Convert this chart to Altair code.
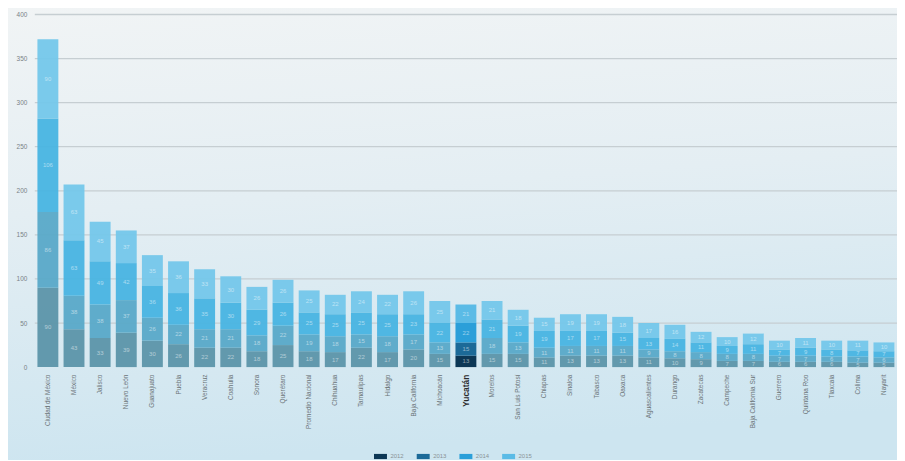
import altair as alt
import pandas as pd

states = ["Ciudad de México", "México", "Jalisco", "Nuevo León", "Guanajuato", "Puebla",
          "Veracruz", "Coahuila", "Sonora", "Querétaro", "Promedio Nacional", "Chihuahua",
          "Tamaulipas", "Hidalgo", "Baja California", "Michoacán", "Yucatán", "Morelos",
          "San Luis Potosí", "Chiapas", "Sinaloa", "Tabasco", "Oaxaca", "Aguascalientes",
          "Durango", "Zacatecas", "Campeche", "Baja California Sur", "Guerrero",
          "Quintana Roo", "Tlaxcala", "Colima", "Nayarit"]

s1 = [90, 43, 33, 39, 30, 26, 22, 22, 18, 25, 18, 17, 22, 17, 20, 15, 13, 15, 15, 11, 13,
      13, 13, 11, 10, 9, 7, 7, 6, 6, 6, 5, 5]
s2 = [86, 38, 38, 37, 26, 22, 21, 21, 18, 22, 19, 18, 15, 18, 17, 13, 15, 18, 13, 11, 11,
      11, 11, 9, 8, 8, 8, 8, 7, 7, 6, 7, 6]
s3 = [106, 63, 49, 42, 36, 36, 35, 30, 29, 26, 25, 25, 25, 25, 23, 22, 22, 21, 19, 19, 17,
      17, 15, 13, 14, 11, 9, 11, 7, 9, 8, 7, 7]
s4 = [90, 63, 45, 37, 35, 36, 33, 30, 26, 26, 25, 22, 24, 22, 26, 25, 21, 21, 18, 15, 19,
      19, 18, 17, 16, 12, 10, 12, 10, 11, 10, 11, 10]

series_names = ["2012", "2013", "2014", "2015"]
highlight_state = "Yucatán"
grid_values = [50, 100, 150, 200, 250, 300, 350, 400]
tick_values = [0, 50, 100, 150, 200, 250, 300, 350, 400]

muted_colors = ["#5c95a9", "#58a9c8", "#48b4e1", "#74c7ea"]
dark_colors = ["#0c3755", "#1c6a98", "#2b9fd9", "#5bbbe6"]

rows = []
for i, st in enumerate(states):
    start = 0
    for name, vals in zip(series_names, [s1, s2, s3, s4]):
        v = vals[i]
        rows.append({"state": st, "series": name, "value": v, "start": start,
                     "end": start + v, "mid": start + v / 2,
                     "hl": "yes" if st == highlight_state else "no"})
        start += v
df = pd.DataFrame(rows)
grid_df = pd.DataFrame({"g": grid_values})

W, H = 868, 355

x_enc = alt.X("state:N", sort=states, title=None,
              scale=alt.Scale(paddingInner=0.2, paddingOuter=0.1),
              axis=alt.Axis(labelAngle=-90, labelAlign="right", labelBaseline="middle",
                            labelPadding=7, ticks=False, domain=False, zindex=2,
                            labelFont="Liberation Sans",
                            labelFontSize=alt.condition(alt.datum.value == highlight_state,
                                                        alt.value(8.5), alt.value(6.5)),
                            labelFontWeight=alt.condition(alt.datum.value == highlight_state,
                                                          alt.value("bold"), alt.value("normal")),
                            labelColor=alt.condition(alt.datum.value == highlight_state,
                                                     alt.value("#2b2b2b"), alt.value("#6b7478"))))
y_scale = alt.Scale(domain=[0, 400], nice=False)
y_axis = alt.Axis(values=tick_values, ticks=False, domain=False, grid=False, zindex=2,
                  labelPadding=8, labelFontSize=6.5, labelColor="#7a8286",
                  labelFont="Liberation Sans")

bg = alt.Chart(alt.Data(values=[{"a": 1}])).mark_rect(
    color=alt.LinearGradient(gradient="linear",
                             stops=[alt.GradientStop(color="#f1f4f5", offset=0),
                                    alt.GradientStop(color="#e4eef3", offset=0.45),
                                    alt.GradientStop(color="#cde5f0", offset=1)],
                             x1=0, x2=0.15, y1=0, y2=1)
).encode(x=alt.value(-40), x2=alt.value(W + 40), y=alt.value(-10), y2=alt.value(H + 100))

grid = alt.Chart(grid_df).mark_rule(color="#c6ced2", strokeWidth=1.3).encode(
    y=alt.Y("g:Q", scale=y_scale, axis=y_axis, title=None),
    x=alt.value(0), x2=alt.value(W),
)

bars_normal = alt.Chart(df).transform_filter(alt.datum.hl == "no").mark_bar(opacity=0.95).encode(
    x=x_enc,
    y=alt.Y("start:Q", scale=y_scale, axis=y_axis, title=None),
    y2="end:Q",
    color=alt.Color("series:N", scale=alt.Scale(domain=series_names, range=muted_colors),
                    legend=None),
)

bars_hi = alt.Chart(df).transform_filter(alt.datum.hl == "yes").mark_bar().encode(
    x=x_enc,
    y=alt.Y("start:Q", scale=y_scale, axis=y_axis, title=None),
    y2="end:Q",
    color=alt.Color("series:N", scale=alt.Scale(domain=series_names, range=dark_colors),
                    legend=alt.Legend(orient="none", legendX=341, legendY=438,
                                      direction="horizontal", title=None, zindex=2,
                                      symbolType="M-1,-0.4H1V0.4H-1Z", symbolSize=170,
                                      symbolStrokeWidth=0, labelFontSize=6,
                                      labelColor="#8a9296", labelOffset=3,
                                      columnPadding=12)),
)

labels = alt.Chart(df).mark_text(fontSize=6, color="white", opacity=0.5,
                                 font="Liberation Sans").encode(
    x=x_enc,
    y=alt.Y("mid:Q", scale=y_scale, axis=y_axis, title=None),
    text="value:Q",
)

chart = alt.layer(bg, grid, bars_normal, bars_hi, labels).resolve_scale(
    color="independent"
).properties(
    width=W, height=H,
    autosize=alt.AutoSizeParams(type="none"),
    padding={"left": 27, "top": 5, "right": 0, "bottom": 92},
    background="#d6e8f1",
).configure_view(stroke=None)

chart.save("out.html", embed_options={"renderer": "svg", "actions": False})
